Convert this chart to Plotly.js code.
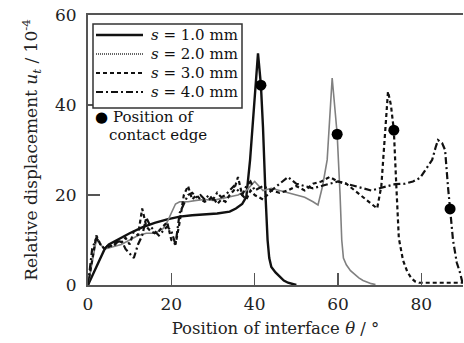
<!DOCTYPE html>
<html><head><meta charset="utf-8">
<script src="https://cdn.plot.ly/plotly-3.0.1.min.js"></script>
<style>html,body{margin:0;padding:0;background:#fff;}#chart{width:464px;height:343px;}</style>
</head><body><div id="chart"></div>
<script>
// s = 1.0 mm
const theta1 = [0,1,2,3,4,5,7,10,13,16,19,22,25,28,31,34,35.5,37,38,38.9,39.8,40.8,41.5,42,42.6,43.1,43.5,44,45,46,47,48,49,50];
const u1     = [0,2,4,6,8,9,10,11.5,12.8,13.8,14.6,15.2,15.5,15.7,15.9,16.3,17,18,19.6,27.8,40,51.5,44.4,35,20,10,6,4,2.8,1.8,1,0.5,0.2,0];
// s = 2.0 mm
const theta2 = [0,1,2,3,4,6,8,10,12,14,16,18,19,20,21,22,24,26,28,30,32,34,36,38,40,41,42,44,46,48,50,52,54,55.2,56.3,57.4,58.6,59.8,60.5,60.9,61.3,62,63,64,65,66,67,68,69];
const u2     = [0,5,10,9,8,8.5,9,10,11,11.5,11.5,12.5,14,16,18,18.5,18.5,18.8,19,18.8,19.2,19.5,20,21,23,22,21,21.5,21,20.5,20,19.5,18.5,17.8,22,27.8,46,33.5,20,10,6,4.5,3.2,2.3,1.6,1,0.6,0.3,0.1];
// s = 3.0 mm
const theta3 = [0,1,2,3,4,5,6,7,8,9,10,11,12,13,14,15,16,17,18,19,20,21,22,23,24,25,26,27,28,29,30,31,32,33,34,35,36,37,38,39,40,42,44,46,48,50,52,54,56,58,60,62,64,66,68,69.4,70.4,71.2,72,72.7,73.4,74,74.6,75.6,76.6,77.6,78.5,79.5,82,84,86,88,90];
const u3     = [0,6,11,9,8,8.5,9,10,9.5,10.5,9,12,11,17,13,12,11.5,12,13,14,10,9,14,20,22,19,20,19,18.5,19,19.5,18,19,18.5,20,21,24,20,19,21,20,19,21,20.5,21,22,21,22.5,23,24,23,22.5,21,19.5,18,17,22,33,43,40,34.4,22,10.4,5.5,3,1.5,0.8,0.5,0.5,0.5,0.5,0.5,0.5];
// s = 4.0 mm
const theta4 = [0,1,2,3,4,5,6,7,8,9,10,11,12,13,14,15,16,17,18,19,20,21,22,23,24,25,26,27,28,29,30,31,32,33,34,35,36,37,38,39,40,42,44,46,48,50,52,54,56,58,60,62,64,66,68,70,72,73.7,76,78,79.7,81,82.6,83.4,84,85,85.7,86.4,86.9,87.6,88.5,89.3,90];
const u4     = [0,8,10.5,9,8,9,8.5,9.5,10,8,7,6,9,11,15,13,12,11,12,13,12,9,16,18,20,20.5,19.5,20,19,20,19,20.5,19.5,20,21,22,21,20,22,23,21,22,21,22.5,24,22.5,22,21.5,22,22.5,23,22.5,22,21.5,21,21.5,22,22.4,22.5,23,23.8,25.5,27.8,30.5,32.2,31.5,30,21.8,16.9,10,5,2.7,0];
// positions of contact edge
const edgeTheta = [41.5, 59.8, 73.4, 86.9];
const edgeU     = [44.4, 33.5, 34.4, 16.9];

const xTicks = [0,20,40,60,80];
const yTicks = [0,20,40,60];
const seriesNames = ['<i>s</i> = 1.0 mm','<i>s</i> = 2.0 mm','<i>s</i> = 3.0 mm','<i>s</i> = 4.0 mm'];

const serif = 'DejaVu Serif, Liberation Serif, serif';
const styles = [
  {color:'#111', width:2.4},
  {color:'#808080', width:1.6},
  {color:'#111', width:2.2, dash:'4px,3px'},
  {color:'#111', width:2.2, dash:'7px,3px,2px,3px'}
];
const legendStyles = [
  {color:'#111', width:2.4},
  {color:'#333', width:1.3, dash:'1px,1px'},
  {color:'#111', width:2.2, dash:'4px,3px'},
  {color:'#111', width:2.2, dash:'7px,3px,2px,3px'}
];
const thetas = [theta1, theta2, theta3, theta4];
const us = [u1, u2, u3, u4];

const traces = thetas.map((t,i) => ({x:t, y:us[i], mode:'lines', name:seriesNames[i], line:styles[i]}));
traces.push({x: edgeTheta, y: edgeU, mode:'markers', name:'Position of contact edge', marker:{color:'#000', size:11}});

// pixel -> paper helpers (plot area: x 88..463, y 15..285)
const px = x => (x-88)/375;
const py = y => (285-y)/270;

const shapes = [{type:'rect', xref:'paper', yref:'paper', x0:px(93), x1:px(242), y0:py(24), y1:py(108),
  line:{color:'#333', width:1.5}, fillcolor:'#fff', layer:'above'}];
const annotations = [];
const rowY = [35, 54, 73, 92];
rowY.forEach((y,i) => {
  shapes.push({type:'line', xref:'paper', yref:'paper', x0:px(96), x1:px(143), y0:py(y), y1:py(y), line:legendStyles[i], layer:'above'});
  annotations.push({xref:'paper', yref:'paper', x:px(149), y:py(y), text:seriesNames[i], showarrow:false,
    xanchor:'left', yanchor:'middle', font:{family:serif, size:15, color:'#111'}});
});
annotations.push(
  {xref:'paper', yref:'paper', x:px(101), y:py(117), text:'●', showarrow:false,
    font:{family:'DejaVu Sans', size:15, color:'#000'}, xanchor:'center', yanchor:'middle'},
  {xref:'paper', yref:'paper', x:px(111), y:py(117), text:'Position of', showarrow:false,
    font:{family:serif, size:15, color:'#111'}, xanchor:'left', yanchor:'middle'},
  {xref:'paper', yref:'paper', x:px(107), y:py(135), text:'contact edge', showarrow:false,
    font:{family:serif, size:15, color:'#111'}, xanchor:'left', yanchor:'middle'}
);

const axisCommon = {
  showgrid:false, zeroline:false, showline:true, linecolor:'#555', linewidth:2,
  ticks:'inside', ticklen:12, tickwidth:1.5, tickcolor:'#555',
  tickfont:{family:serif, size:17, color:'#222'}
};

const layout = {
  width:464, height:343,
  margin:{l:88, r:1, t:15, b:58},
  paper_bgcolor:'#fff', plot_bgcolor:'#fff',
  font:{family:serif, color:'#222'},
  showlegend:false,
  xaxis: Object.assign({}, axisCommon, {
    range:[0,90], tickvals:xTicks, ticktext:xTicks.map(String), mirror:true,
    ticklabelstandoff:3,
    title:{text:'Position of interface <i>θ</i> / °', font:{family:serif, size:16.5, color:'#222'}, standoff:9}
  }),
  yaxis: Object.assign({}, axisCommon, {
    range:[0,60], tickvals:yTicks, ticktext:yTicks.map(String),
    ticklabelstandoff:6,
    title:{text:'Relative displacement <i>u</i><sub><i>t</i></sub> / 10<sup>-4</sup>', font:{family:serif, size:17, color:'#222'}, standoff:13}
  }),
  shapes: shapes,
  annotations: annotations
};
Plotly.newPlot('chart', traces, layout, {staticPlot:true, displayModeBar:false});
</script>
</body></html>
